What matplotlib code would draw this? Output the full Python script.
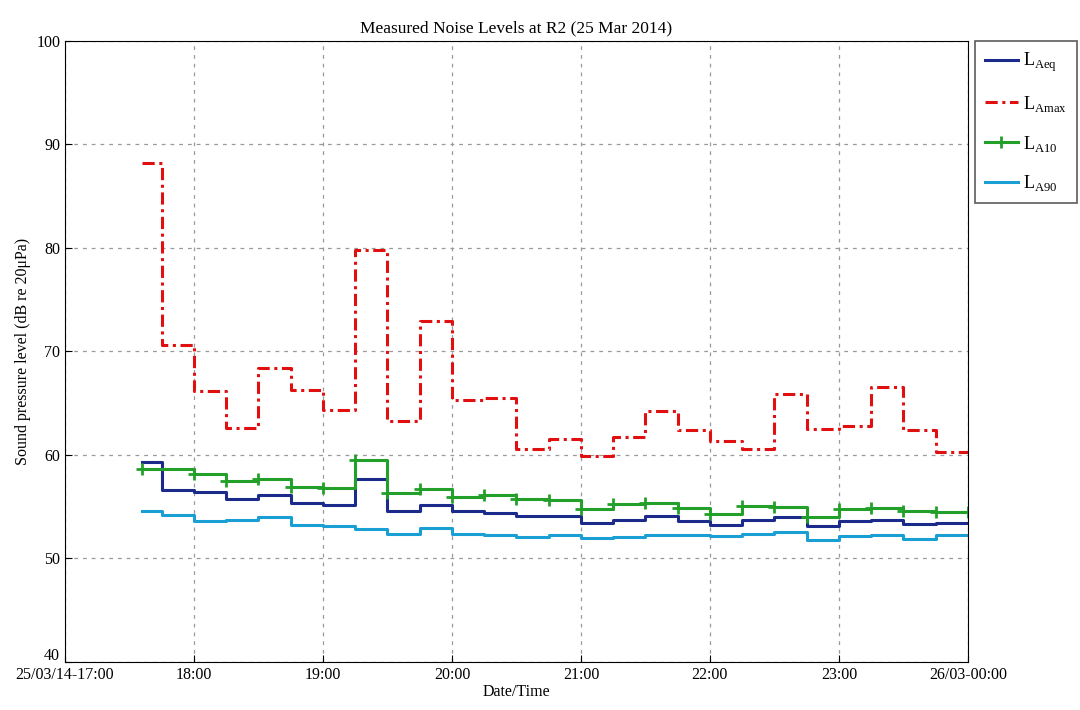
import numpy as np
import matplotlib.pyplot as plt
import matplotlib.transforms as mtransforms

plt.rcParams['font.family'] = ['Liberation Serif', 'DejaVu Serif']
plt.rcParams['mathtext.fontset'] = 'custom'
plt.rcParams['mathtext.rm'] = 'Liberation Serif'

# interval start times (hours), last entry is end of final interval
edges = [17.6] + list(np.arange(17.75, 24.001, 0.25))

tick_pos = [17, 18, 19, 20, 21, 22, 23, 24]
tick_labels = ["25/03/14-17:00", "18:00", "19:00", "20:00", "21:00",
               "22:00", "23:00", "26/03-00:00"]

laeq = [59.3, 56.6, 56.4, 55.7, 56.1, 55.4, 55.2, 57.7, 54.6, 55.2,
        54.6, 54.4, 54.1, 54.1, 53.4, 53.7, 54.1, 53.6, 53.2, 53.7,
        54.0, 53.1, 53.6, 53.7, 53.3, 53.4]
lamax = [88.2, 70.6, 66.2, 62.6, 68.4, 66.3, 64.3, 79.8, 63.3, 72.9,
         65.3, 65.5, 60.6, 61.5, 59.9, 61.7, 64.2, 62.4, 61.3, 60.6,
         65.9, 62.5, 62.8, 66.6, 62.4, 60.3]
la10 = [58.6, 58.6, 58.2, 57.5, 57.7, 56.9, 56.8, 59.5, 56.3, 56.7,
        55.9, 56.1, 55.7, 55.6, 54.8, 55.3, 55.4, 54.9, 54.3, 55.1,
        55.0, 54.0, 54.8, 54.9, 54.6, 54.45]
la90 = [54.6, 54.2, 53.6, 53.7, 54.0, 53.2, 53.1, 52.8, 52.4, 52.9,
        52.4, 52.3, 52.1, 52.3, 52.0, 52.1, 52.25, 52.3, 52.2, 52.4,
        52.6, 51.8, 52.2, 52.3, 51.9, 52.25]


def stair(vals):
    return list(vals) + [vals[-1]]


fig = plt.figure(figsize=(10.8, 7.1), dpi=100)
ax = fig.add_axes([0.0602, 0.0676, 0.836, 0.875])

ax.plot(edges, stair(laeq), drawstyle="steps-post", color="#1c2a8c",
        linewidth=2.2, label=r"L$_{\mathrm{Aeq}}$")
ax.plot(edges, stair(lamax), drawstyle="steps-post", color="#e01010",
        linewidth=2.2, linestyle=(0, (4, 1.5, 1, 1.5)), label=r"L$_{\mathrm{Amax}}$")
ax.plot(edges, stair(la10), drawstyle="steps-post", color="#22a02a",
        linewidth=2.2, marker="+", markersize=8, markeredgewidth=2,
        markevery=[0] + list(range(2, len(edges) - 1)) + [len(edges) - 1],
        label=r"L$_{\mathrm{A10}}$")
ax.plot(edges, stair(la90), drawstyle="steps-post", color="#1a9fd4",
        linewidth=2.2, label=r"L$_{\mathrm{A90}}$")

ax.set_xlim(17, 24)
ax.set_ylim(40, 100)
ax.set_xticks(tick_pos)
ax.set_xticklabels(tick_labels)
ax.set_yticks(range(40, 101, 10))
ax.tick_params(direction="in", labelsize=11.5, length=5)
ax.grid(True, color="#999999", linestyle=(0, (3, 4)), linewidth=0.9)

# lift the bottom y label clear of the first date label
lbl40 = ax.get_yticklabels()[0]
lbl40.set_transform(lbl40.get_transform() +
                    mtransforms.ScaledTranslation(0, 6 / 72, fig.dpi_scale_trans))

ax.set_title("Measured Noise Levels at R2 (25 Mar 2014)", fontsize=12.5)
ax.set_xlabel("Date/Time", fontsize=11.5, labelpad=1)
ax.set_ylabel("Sound pressure level (dB re 20\u03bcPa)", fontsize=11.5)

leg = ax.legend(loc="upper left", bbox_to_anchor=(1.008, 1.0), fontsize=13,
                handlelength=1.8, frameon=True, fancybox=False,
                edgecolor="#333333", borderpad=0.55, labelspacing=1.1,
                handletextpad=0.3, borderaxespad=0)
leg.get_frame().set_linewidth(1.2)

fig.savefig("out.png", dpi=100)
